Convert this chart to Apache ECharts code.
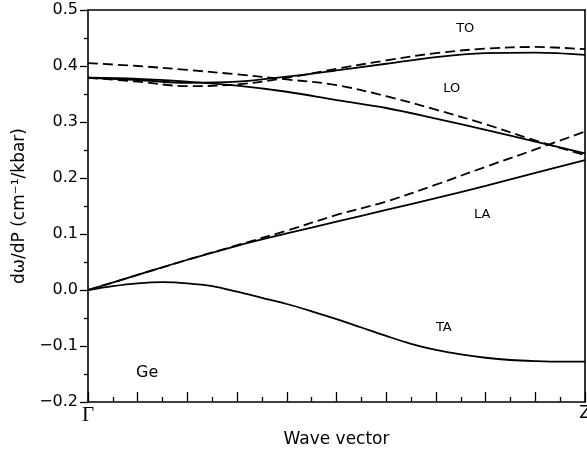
<!DOCTYPE html>
<html>
<head>
<meta charset="utf-8">
<script src="https://cdn.jsdelivr.net/npm/echarts@6/dist/echarts.min.js"></script>
<style>
  html, body { margin: 0; padding: 0; background: #fff; }
  #main { width: 587px; height: 452px; }
</style>
</head>
<body>
<div id="main"></div>
<script>
// wave vector, fraction of Gamma -> Z
var xs = [0, 0.1, 0.2, 0.3, 0.4, 0.5, 0.6, 0.7, 0.8, 0.9, 1.0];
var xsFine = [0, 0.05, 0.1, 0.15, 0.2, 0.25, 0.3, 0.35, 0.4, 0.45, 0.5,
  0.55, 0.6, 0.65, 0.7, 0.75, 0.8, 0.85, 0.9, 0.95, 1.0];

// solid curves
var toSolid = [0.379, 0.375, 0.370, 0.372, 0.381, 0.392, 0.404, 0.416, 0.423, 0.424, 0.420];
var loSolid = [0.379, 0.377, 0.372, 0.365, 0.354, 0.339, 0.325, 0.306, 0.286, 0.265, 0.244];
var laSolid = [0, 0.027, 0.054, 0.079, 0.101, 0.122, 0.143, 0.164, 0.186, 0.209, 0.232];
var taSolid = [0, 0.007, 0.012, 0.014, 0.012, 0.007, -0.003, -0.014, -0.025, -0.038, -0.052,
  -0.067, -0.082, -0.096, -0.107, -0.115, -0.121, -0.125, -0.127, -0.128, -0.128];

// dashed curves
var toDashed = [0.379, 0.372, 0.364, 0.367, 0.379, 0.395, 0.410, 0.423, 0.431, 0.434, 0.430];
var loDashed = [0.405, 0.400, 0.393, 0.385, 0.376, 0.366, 0.346, 0.322, 0.296, 0.267, 0.241];
var laDashed = [0, 0.027, 0.054, 0.080, 0.106, 0.134, 0.158, 0.188, 0.220, 0.251, 0.283];

// in-plot labels: [x, y, text]
var labels = [
  [0.759, 0.466, "TO"],
  [0.732, 0.359, "LO"],
  [0.793, 0.134, "LA"],
  [0.716, -0.068, "TA"],
  [0.119, -0.148, "Ge"]
];

function pairs(x, ys) {
  var out = [];
  for (var i = 0; i < x.length; i++) out.push([x[i], ys[i]]);
  return out;
}

function line(x, ys, dashed) {
  return {
    type: "line",
    data: pairs(x, ys),
    smooth: 0.35,
    showSymbol: false,
    silent: true,
    lineStyle: { color: "#000", width: 1.8, type: dashed ? [10, 5] : "solid" }
  };
}

var chart = echarts.init(document.getElementById("main"), null, { renderer: "canvas" });
var font = "DejaVu Sans";
var black = { color: "#000", width: 1.6 };

var option = {
  animation: false,
  backgroundColor: "#fff",
  grid: { left: 88, right: 2, top: 10, bottom: 50, containLabel: false, outerBoundsMode: "none" },
  xAxis: [
    {
      type: "value",
      min: 0,
      max: 1,
      interval: 0.1,
      name: "Wave vector",
      nameLocation: "middle",
      nameGap: 28,
      nameTextStyle: { fontFamily: font, fontSize: 17, color: "#000" },
      axisLine: { onZero: false, lineStyle: black },
      axisTick: { inside: true, length: 10, lineStyle: { color: "#000", width: 1.3 } },
      minorTick: { show: true, splitNumber: 2, length: 5, lineStyle: { color: "#000", width: 1.3 } },
      splitLine: { show: false },
      axisLabel: {
        margin: 3,
        color: "#000",
        fontFamily: font,
        fontSize: 17,
        hideOverlap: false,
        formatter: function (v) {
          if (v === 0) return "{g|Γ}";
          if (v === 1) return "Z";
          return "";
        },
        rich: { g: { fontFamily: "Liberation Serif", fontSize: 21, color: "#000" } }
      }
    },
    {
      type: "value",
      position: "top",
      min: 0,
      max: 1,
      axisLine: { show: true, onZero: false, lineStyle: black },
      axisTick: { show: false },
      axisLabel: { show: false },
      splitLine: { show: false }
    }
  ],
  yAxis: [
    {
      type: "value",
      min: -0.2,
      max: 0.5,
      interval: 0.1,
      name: "dω/dP (cm⁻¹/kbar)",
      nameLocation: "middle",
      nameGap: 60,
      nameTextStyle: { fontFamily: font, fontSize: 17, color: "#000" },
      axisLine: { show: true, onZero: false, lineStyle: black },
      axisTick: { inside: false, length: 8, lineStyle: { color: "#000", width: 1.3 } },
      minorTick: { show: true, splitNumber: 2, length: 4, lineStyle: { color: "#000", width: 1.3 } },
      splitLine: { show: false },
      axisLabel: {
        margin: 10,
        color: "#000",
        fontFamily: font,
        fontSize: 16,
        formatter: function (v) {
          var s = Math.abs(v).toFixed(1);
          return (v < -1e-9 ? "\u2212" : "") + s;
        }
      }
    },
    {
      type: "value",
      position: "right",
      min: -0.2,
      max: 0.5,
      axisLine: { show: true, onZero: false, lineStyle: black },
      axisTick: { show: false },
      axisLabel: { show: false },
      splitLine: { show: false }
    }
  ],
  series: [
    line(xs, toSolid, false),
    line(xs, loSolid, false),
    line(xs, laSolid, false),
    line(xsFine, taSolid, false),
    line(xs, toDashed, true),
    line(xs, loDashed, true),
    line(xs, laDashed, true)
  ]
};

chart.setOption(option);

// place curve labels in data coordinates
var texts = labels.map(function (l) {
  var p = chart.convertToPixel({ gridIndex: 0 }, [l[0], l[1]]);
  return {
    type: "text",
    x: p[0],
    y: p[1],
    style: {
      text: l[2],
      fill: "#000",
      font: (l[2] === "Ge" ? "16px " : "13px ") + font,
      textAlign: "center",
      textVerticalAlign: "middle"
    }
  };
});
chart.setOption({ graphic: texts });
</script>
</body>
</html>
